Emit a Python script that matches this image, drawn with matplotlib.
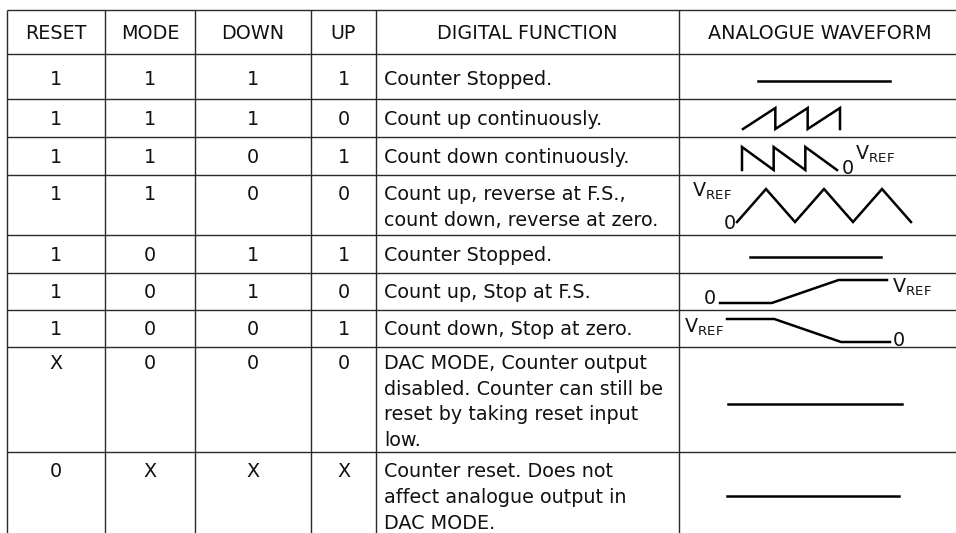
import matplotlib
matplotlib.use("Agg")
import matplotlib.pyplot as plt

plt.rcParams['font.family'] = ['DejaVu Sans']
plt.rcParams['mathtext.default'] = 'regular'

# ---------------- data ----------------
headers = ["RESET", "MODE", "DOWN", "UP", "DIGITAL FUNCTION", "ANALOGUE WAVEFORM"]
reset = ["1", "1", "1", "1", "1", "1", "1", "X", "0"]
mode = ["1", "1", "1", "1", "0", "0", "0", "0", "X"]
down = ["1", "1", "0", "0", "1", "1", "0", "0", "X"]
up = ["1", "0", "1", "0", "1", "0", "1", "0", "X"]
function = [
    ["Counter Stopped."],
    ["Count up continuously."],
    ["Count down continuously."],
    ["Count up, reverse at F.S.,", "count down, reverse at zero."],
    ["Counter Stopped."],
    ["Count up, Stop at F.S."],
    ["Count down, Stop at zero."],
    ["DAC MODE, Counter output", "disabled. Counter can still be",
     "reset by taking reset input", "low."],
    ["Counter reset. Does not", "affect analogue output in", "DAC MODE."],
]
waveform = ["flat", "saw_up", "saw_down", "triangle", "flat",
            "ramp_up", "ramp_down", "flat", "flat"]

# normalised waveform shapes (x in 0..1, level in 0..1)
shapes = {
    "flat": ([0, 1], [0, 0]),
    "saw_up": ([0, 1/3, 1/3, 2/3, 2/3, 1, 1], [0, 1, 0, 1, 0, 1, 0]),
    "saw_down": ([0, 0, 1/3, 1/3, 2/3, 2/3, 1], [0, 1, 0, 1, 0, 1, 0]),
    "triangle": ([0, 1/6, 2/6, 3/6, 4/6, 5/6, 1], [0, 1, 0, 1, 0, 1, 0]),
    "ramp_up": ([0, 0.31, 0.71, 1], [0, 0, 1, 1]),
    "ramp_down": ([0, 0.29, 0.70, 1], [1, 1, 0, 0]),
}

# ---------------- layout (pixels) ----------------
W, H = 956, 533
col_x = [7, 105, 195, 311, 376, 679]
right_edge = 956
row_y = [10, 54, 99, 137, 175, 235, 273, 310, 347, 452]
bottom = 533
header_y = 32
line_y = [[78], [118], [156], [193, 219], [254], [291], [328],
          [362, 388, 413, 439], [470, 496, 522]]
# waveform placement: x0, x1, y_low, y_high
wave_box = [
    (758, 890, 81, 81),
    (743, 840, 129, 108),
    (742, 837, 170, 147),
    (737, 911, 222, 189),
    (750, 881, 257, 257),
    (720, 887, 303, 280),
    (727, 890, 342, 319),
    (728, 902, 404, 404),
    (727, 899, 496, 496),
]
# waveform labels: (row, text, x, baseline, ha)
VREF = r"$\mathregular{V_{REF}}$"
wave_labels = [
    (2, "0", 842, 174, "left"),
    (2, VREF, 855, 160, "left"),
    (3, VREF, 692, 197, "left"),
    (3, "0", 736, 229, "right"),
    (5, "0", 716, 304, "right"),
    (5, VREF, 892, 293, "left"),
    (6, VREF, 684, 333, "left"),
    (6, "0", 893, 346, "left"),
]

FS = 13.8
CAP = 6.9  # half cap height in px

fig = plt.figure(figsize=(W / 100, H / 100), dpi=100)
ax = fig.add_axes([0, 0, 1, 1])
ax.set_xlim(0, W)
ax.set_ylim(H, 0)
ax.axis("off")

grid_c = "#2a2a2a"
for y in row_y:
    ax.plot([col_x[0], right_edge], [y, y], color=grid_c, lw=1.0,
            solid_capstyle="butt")
for x in col_x:
    ax.plot([x, x], [row_y[0], bottom], color=grid_c, lw=1.0,
            solid_capstyle="butt")

col_centers = [(col_x[i] + col_x[i + 1]) / 2 for i in range(5)]
col_centers.append(820)

for i, h in enumerate(headers):
    ax.text(col_centers[i], header_y + CAP, h, ha="center", va="baseline",
            fontsize=FS, color="#111111")

for r in range(len(reset)):
    y0 = line_y[r][0] + CAP
    for c, vals in enumerate([reset, mode, down, up]):
        ax.text(col_centers[c], y0, vals[r], ha="center", va="baseline",
                fontsize=FS, color="#111111")
    for k, txt in enumerate(function[r]):
        ax.text(col_x[4] + 8, line_y[r][k] + CAP, txt, ha="left",
                va="baseline", fontsize=FS, color="#111111")
    sx, sl = shapes[waveform[r]]
    x0, x1, ylo, yhi = wave_box[r]
    xs = [x0 + v * (x1 - x0) for v in sx]
    ys = [ylo + v * (yhi - ylo) for v in sl]
    ax.plot(xs, ys, color="black", lw=1.8, solid_joinstyle="miter")

for (r, txt, x, yb, ha) in wave_labels:
    ax.text(x, yb, txt, ha=ha, va="baseline", fontsize=FS, color="#111111")

fig.savefig("out.png", dpi=100)
